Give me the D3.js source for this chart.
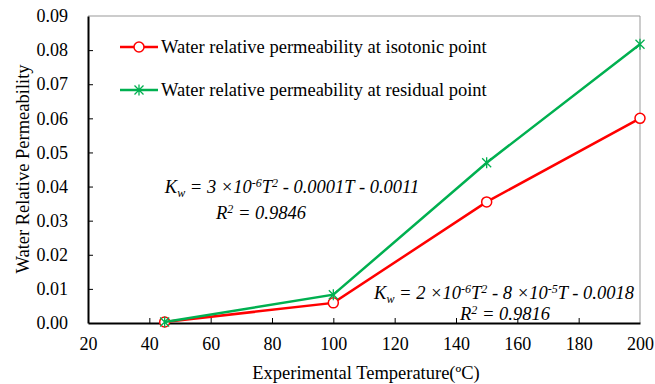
<!DOCTYPE html>
<html><head><meta charset="utf-8">
<script src="https://cdn.jsdelivr.net/npm/d3@7"></script>
<style>body{margin:0;background:#fff}svg{display:block}</style>
</head><body>
<svg id="c" width="655" height="384"></svg>
<script>
const temps = [45, 100, 150, 200];
const isotonic = [0.0003, 0.0059, 0.0355, 0.0600];
const residual = [0.0003, 0.0083, 0.0470, 0.0817];
const xTicks = [20, 40, 60, 80, 100, 120, 140, 160, 180, 200];
const yTicks = [0, 0.01, 0.02, 0.03, 0.04, 0.05, 0.06, 0.07, 0.08, 0.09];
const seriesNames = ["Water relative permeability at isotonic point", "Water relative permeability at residual point"];

const FF = "Liberation Serif";
const svg = d3.select("#c");
const L = 88, R = 640, T = 16, B = 323;
const x = d3.scaleLinear().domain([20, 200]).range([L, R]);
const y = d3.scaleLinear().domain([0, 0.09]).range([B, T]);

svg.append("line").attr("x1", L).attr("x2", R).attr("y1", T).attr("y2", T).attr("stroke", "#999").attr("stroke-width", 1);
svg.append("line").attr("x1", R).attr("x2", R).attr("y1", T).attr("y2", B).attr("stroke", "#999").attr("stroke-width", 1);

const xa = svg.append("g").attr("transform", `translate(0,${B})`)
  .call(d3.axisBottom(x).tickValues(xTicks).tickSizeInner(-5).tickSizeOuter(0).tickPadding(14).tickFormat(d3.format("d")));
const ya = svg.append("g").attr("transform", `translate(${L},0)`)
  .call(d3.axisLeft(y).tickValues(yTicks).tickSizeInner(-5).tickSizeOuter(0).tickPadding(20).tickFormat(d3.format(".2f")));
[xa, ya].forEach(a => {
  a.attr("font-family", FF).attr("font-size", 18);
  a.select(".domain").attr("stroke", "#000").attr("stroke-width", 2);
  a.selectAll(".tick line").attr("stroke", "#000").attr("stroke-width", 1);
  a.selectAll("text").attr("font-family", FF).style("font-family", FF).style("font-size", "18px").attr("fill", "#000");
});
ya.selectAll(".tick").filter(d => d === 0 || d === 0.09).select("line").remove();
xa.selectAll(".tick").filter(d => d === 20 || d === 200).select("line").remove();

svg.append("text").attr("x", 366).attr("y", 379).attr("text-anchor", "middle")
  .style("font-family", FF).style("font-size", "18.5px").text("Experimental Temperature(ºC)");
svg.append("text").attr("transform", "translate(29,169) rotate(-90)").attr("text-anchor", "middle")
  .style("font-family", FF).style("font-size", "18.5px").text("Water Relative Permeability");

const line = d3.line().x((d, i) => x(temps[i])).y(d => y(d));
const red = "#ff0000", green = "#00b050";

function star(g, cx, cy) {
  const s = 4.5;
  g.append("path").attr("d", `M${cx - s},${cy - s}L${cx + s},${cy + s}M${cx - s},${cy + s}L${cx + s},${cy - s}M${cx},${cy - s - 1}L${cx},${cy + s + 1}`)
    .attr("stroke", green).attr("stroke-width", 1.3).attr("fill", "none");
}
svg.append("path").datum(isotonic).attr("d", line).attr("fill", "none").attr("stroke", red).attr("stroke-width", 2.5);
isotonic.forEach((v, i) => svg.append("circle").attr("cx", x(temps[i])).attr("cy", y(v)).attr("r", 5)
  .attr("fill", "#fff").attr("stroke", red).attr("stroke-width", 1.5));
svg.append("path").datum(residual).attr("d", line).attr("fill", "none").attr("stroke", green).attr("stroke-width", 2.5);
residual.forEach((v, i) => star(svg, x(temps[i]), y(v)));

const lg = svg.append("g");
lg.append("line").attr("x1", 120).attr("x2", 158).attr("y1", 47).attr("y2", 47).attr("stroke", red).attr("stroke-width", 2.5);
lg.append("circle").attr("cx", 139).attr("cy", 47).attr("r", 5).attr("fill", "#fff").attr("stroke", red).attr("stroke-width", 1.5);
lg.append("line").attr("x1", 120).attr("x2", 158).attr("y1", 90).attr("y2", 90).attr("stroke", green).attr("stroke-width", 2.5);
star(lg, 139, 90);
lg.append("text").attr("x", 161).attr("y", 53).style("font-family", FF).style("font-size", "18.5px").text(seriesNames[0]);
lg.append("text").attr("x", 161).attr("y", 96).style("font-family", FF).style("font-size", "18.5px").text(seriesNames[1]);

function eq(xc, yc, parts) {
  const t = svg.append("text").attr("x", xc).attr("y", yc).attr("text-anchor", "middle")
    .style("font-family", FF).style("font-size", "18.5px").style("font-style", "italic");
  parts.forEach(p => {
    const ts = t.append("tspan").text(p[0]);
    if (p[1] === "sup") ts.style("font-size", "12px").attr("dy", -6);
    else if (p[1] === "sub") ts.style("font-size", "12px").attr("dy", 4);
    else if (p[1] === "back") ts.attr("dy", p[2]);
  });
}
eq(292, 193, [["K"], ["w", "sub"], [" = 3 ×10", "back", -4], ["-6", "sup"], ["T", "back", 6], ["2", "sup"], [" - 0.0001T - 0.0011", "back", 6]]);
eq(261, 219, [["R"], ["2", "sup"], [" = 0.9846", "back", 6]]);
eq(504, 299, [["K"], ["w", "sub"], [" = 2 ×10", "back", -4], ["-6", "sup"], ["T", "back", 6], ["2", "sup"], [" - 8 ×10", "back", 6], ["-5", "sup"], ["T - 0.0018", "back", 6]]);
eq(505, 320, [["R"], ["2", "sup"], [" = 0.9816", "back", 6]]);
</script>
</body></html>
